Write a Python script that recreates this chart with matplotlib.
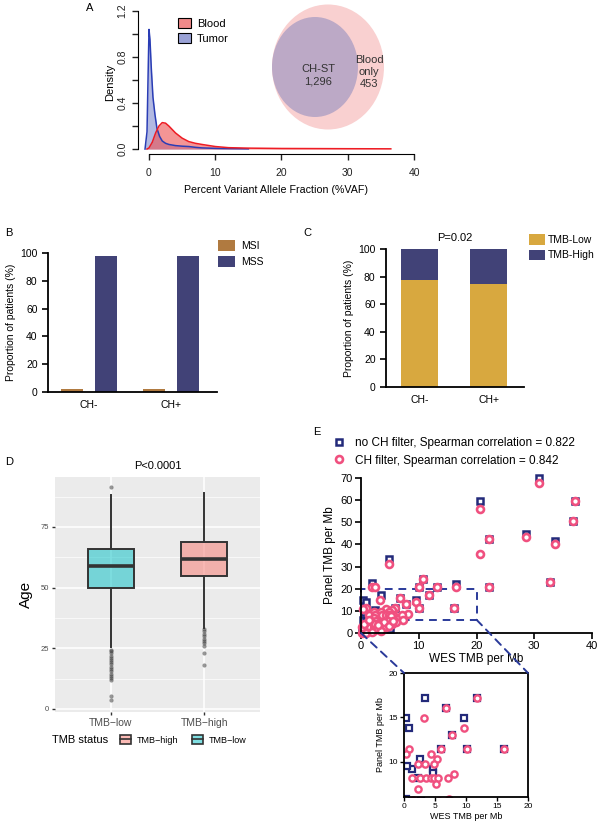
import matplotlib
matplotlib.use("Agg")
import matplotlib.pyplot as plt
from matplotlib.patches import Patch, Ellipse, Rectangle, ConnectionPatch
from matplotlib.lines import Line2D
from matplotlib.legend_handler import HandlerTuple

plt.rcParams['font.family'] = ['Liberation Sans', 'DejaVu Sans']

W, H = 600, 827

# ---------------- data ----------------
# A: density of %VAF
blood_vaf = [-0.3, 0, 0.5, 1, 1.5, 2, 2.5, 3, 3.5, 4, 5, 6, 7, 8, 10, 12, 15, 20, 25, 30, 36.5]
blood_dens = [0, 0.01, 0.06, 0.14, 0.2, 0.23, 0.225, 0.2, 0.17, 0.14, 0.095, 0.065, 0.05,
              0.04, 0.022, 0.012, 0.008, 0.005, 0.004, 0.003, 0.002]
tumor_vaf = [-0.6, -0.3, -0.1, 0, 0.15, 0.35, 0.6, 0.9, 1.2, 1.6, 2, 2.5, 3, 4, 5, 6, 7, 8,
             10, 12, 15]
tumor_dens = [0, 0.15, 0.75, 1.04, 0.95, 0.7, 0.45, 0.3, 0.18, 0.11, 0.07, 0.05, 0.04, 0.03,
              0.025, 0.022, 0.015, 0.01, 0.006, 0.004, 0.002]
venn_shared = 1296
venn_blood_only = 453

# B: MSI status
ch_groups = ["CH-", "CH+"]
msi_pct = [2.5, 2.3]
mss_pct = [97.5, 97.7]

# C: TMB status
tmb_low_pct = [77.5, 74.5]
tmb_high_pct = [22.5, 25.5]

# D: age by TMB status (box stats)
tmb_labels = ["TMB\u2212low", "TMB\u2212high"]
age_q1 = [49.7, 54.8]
age_med = [59, 62]
age_q3 = [66, 69]
age_whislo = [25.5, 33.5]
age_whishi = [88, 89]
age_fliers = [
    [91.3, 24.3, 23.7, 23, 22, 21, 20.3, 19.5, 18.5, 17.5, 16.5, 15.5, 14.5, 13.5, 12.8, 12,
     5.5, 3.5],
    [33, 32, 31, 30, 29, 28, 27, 26, 23, 18],
]

# E: panel vs WES TMB
wes_noch = [20.6, 30.8, 28.5, 33.6, 4.9, 1.85, 3.4, 16.4, 9.6, 0.4, 0.8, 2.5, 1.35, 4.7, 4.6,
            2.2, 0.3, 0.5, 37.1, 36.7, 22.1, 32.8, 22.1, 13.2, 10.8, 10.0, 11.7, 6.7, 7.8,
            10.1, 16.1, 5.9, 0.2, 0.6, 1.2, 2.0, 3.1, 4.2, 5.1, 0.9, 1.7, 2.8]
panel_noch = [59.5, 70.2, 44.7, 41.5, 33.5, 22.8, 17.2, 22.0, 14.9, 14.9, 13.8, 10.3, 9.2,
              9.2, 8.7, 8.1, 5.8, 9.5, 59.5, 50.5, 42.6, 23.2, 20.8, 20.8, 24.2, 20.8, 17.2,
              16.0, 13.0, 11.4, 11.4, 11.4, 1.5, 3.5, 2.2, 4.8, 3.0, 4.5, 2.0, 5.2, 0.8, 5.5]
wes_ch = [20.6, 30.8, 37.1, 36.7, 22.1, 28.5, 33.6, 20.6, 4.9, 32.8, 22.1, 16.4, 13.2, 10.8,
          10.0, 1.9, 2.5,
          11.7, 6.7, 3.3, 7.8, 9.6, 5.9, 10.1, 16.1, 0.8, 0.3, 4.4, 5.4, 2.2, 3.4, 4.9, 8.1,
          1.35, 2.5, 3.6, 4.4, 4.8, 5.5, 7.1, 5.2, 2.3, 7.3,
          0.1, 0.3, 0.5, 0.7, 0.9, 1.1, 1.3, 1.6, 1.8, 2.0, 2.3, 2.6, 2.9, 3.2, 3.8, 4.3, 4.6,
          5.3, 6.0, 0.2, 0.6, 3.9, 4.9, 2.7, 3.5, 0.8, 1.9, 2.4, 1.4, 3.0, 5.6]
panel_ch = [56.2, 67.9, 59.5, 50.5, 42.6, 43.5, 40.2, 35.6, 31.1, 23.2, 20.8, 20.9, 20.8, 24.2,
            20.8, 20.8, 20.6,
            17.2, 16.0, 14.9, 13.0, 13.8, 11.4, 11.4, 11.4, 11.4, 10.8, 10.8, 10.3, 9.7, 9.7,
            9.7, 8.65, 8.1, 8.1, 8.1, 8.1, 8.1, 8.1, 8.1, 7.5, 6.85, 5.8,
            0.2, 1.0, 0.4, 2.0, 3.2, 1.4, 4.4, 2.6, 5.3, 0.9, 3.0, 5.6, 2.0, 4.6, 3.4, 2.5, 5.4,
            4.1, 5.0, 2.6, 4.1, 5.0, 3.0, 1.6, 0.9, 0.1, 0.5, 4.0, 5.7, 3.6, 5.5]


def box(l, t, r, b):
    return [l / W, 1 - b / H, (r - l) / W, (b - t) / H]


def fxy(px, py):
    return px / W, 1 - py / H


fig = plt.figure(figsize=(6, 8.27), dpi=100)

# ---------------- A ----------------
ax_a = fig.add_axes(box(138, 11, 414, 154))
ax_a.fill_between(tumor_vaf, tumor_dens, color="#7f8bd0", alpha=0.6, lw=0)
ax_a.plot(tumor_vaf, tumor_dens, color="#2a3db5", lw=1.1)
ax_a.fill_between(blood_vaf, blood_dens, color="#ee4f4f", alpha=0.6, lw=0)
ax_a.plot(blood_vaf, blood_dens, color="#ee1c24", lw=1.1)
ax_a.set_xlim(-1.66, 40)
ax_a.set_ylim(-0.043, 1.2)
for s in ["top", "right"]:
    ax_a.spines[s].set_visible(False)
ax_a.spines["left"].set_bounds(0, 1.2)
ax_a.spines["bottom"].set_bounds(0, 40)
ax_a.set_xticks([0, 10, 20, 30, 40])
ax_a.set_yticks([0, 0.2, 0.4, 0.6, 0.8, 1.0, 1.2])
ax_a.set_yticklabels(["0.0", "", "0.4", "", "0.8", "", "1.2"], rotation=90, va="center")
ax_a.tick_params(labelsize=7.5, length=4, width=1, colors="#222222")
ax_a.tick_params(axis="x", pad=6)
ax_a.set_ylabel("Density", fontsize=8, labelpad=2)
ax_a.set_xlabel("Percent Variant Allele Fraction (%VAF)", fontsize=7.7, labelpad=5)
ax_a.legend(handles=[Patch(facecolor="#f08a8a", edgecolor="black", lw=0.8),
                     Patch(facecolor="#9aa2d6", edgecolor="black", lw=0.8)],
            labels=["Blood", "Tumor"], loc="upper left", bbox_to_anchor=(0.11, 1.02),
            frameon=False, fontsize=8, handlelength=1.1, handleheight=1.0,
            labelspacing=0.35, handletextpad=0.6)

# overlay for venn and text
ov = fig.add_axes([0, 0, 1, 1])
ov.set_xlim(0, W)
ov.set_ylim(H, 0)
ov.axis("off")
ov.add_patch(Ellipse((328, 67), 112, 125, facecolor="#f9d0d0", edgecolor="none"))
ov.add_patch(Ellipse((315, 67), 86, 100, facecolor="#bca9c6", edgecolor="none"))
ov.text(318, 75, f"CH-ST\n{venn_shared:,}", ha="center", va="center", fontsize=8,
        color="#333333", linespacing=1.3)
ov.text(369, 72, f"Blood\nonly\n{venn_blood_only}", ha="center", va="center", fontsize=8,
        color="#333333", linespacing=1.3)

# ---------------- B ----------------
ax_b = fig.add_axes(box(48, 253, 217, 392))
xb = [0, 1]
ax_b.bar([x - 0.21 for x in xb], msi_pct, width=0.27, color="#b07a40")
ax_b.bar([x + 0.21 for x in xb], mss_pct, width=0.27, color="#414277")
ax_b.set_xlim(-0.5, 1.56)
ax_b.set_ylim(0, 100)
ax_b.set_xticks(xb)
ax_b.set_xticklabels(ch_groups)
ax_b.set_yticks([0, 20, 40, 60, 80, 100])
for s in ["top", "right"]:
    ax_b.spines[s].set_visible(False)
for s in ["left", "bottom"]:
    ax_b.spines[s].set_linewidth(1.3)
ax_b.tick_params(axis="y", labelsize=7.5, length=4, width=1.2)
ax_b.tick_params(axis="x", labelsize=7.5, length=0, pad=6)
ax_b.set_ylabel("Proportion of patients (%)", fontsize=7.5, labelpad=3)
fig.legend(handles=[Patch(facecolor="#b07a40"), Patch(facecolor="#414277")],
           labels=["MSI", "MSS"], loc="upper left", bbox_to_anchor=fxy(218, 240),
           frameon=False, fontsize=7.5, handlelength=1.6, handleheight=1.2,
           labelspacing=0.5, handletextpad=0.6, borderaxespad=0, borderpad=0)

# ---------------- C ----------------
ax_c = fig.add_axes(box(386, 249, 524, 387))
ax_c.bar(xb, tmb_low_pct, width=0.54, color="#d8a83f")
ax_c.bar(xb, tmb_high_pct, width=0.54, bottom=tmb_low_pct, color="#414277")
ax_c.set_xlim(-0.49, 1.51)
ax_c.set_ylim(0, 100)
ax_c.set_xticks(xb)
ax_c.set_xticklabels(ch_groups)
ax_c.set_yticks([0, 20, 40, 60, 80, 100])
for s in ["top", "right"]:
    ax_c.spines[s].set_visible(False)
for s in ["left", "bottom"]:
    ax_c.spines[s].set_linewidth(1.3)
ax_c.tick_params(axis="y", labelsize=7.5, length=4, width=1.2)
ax_c.tick_params(axis="x", labelsize=7.5, length=0, pad=6)
ax_c.set_ylabel("Proportion of patients (%)", fontsize=7.5, labelpad=3)
fig.legend(handles=[Patch(facecolor="#d8a83f"), Patch(facecolor="#414277")],
           labels=["TMB-Low", "TMB-High"], loc="upper left", bbox_to_anchor=fxy(529, 234),
           frameon=False, fontsize=7.5, handlelength=1.5, handleheight=1.2,
           labelspacing=0.45, handletextpad=0.3, borderaxespad=0, borderpad=0)

# ---------------- D ----------------
ax_d = fig.add_axes(box(55, 477, 260, 712))
ax_d.set_facecolor("#EBEBEB")
stats = []
for i in range(2):
    stats.append(dict(med=age_med[i], q1=age_q1[i], q3=age_q3[i], whislo=age_whislo[i],
                      whishi=age_whishi[i], fliers=age_fliers[i]))
bp = ax_d.bxp(stats, positions=[0, 1], widths=0.5, patch_artist=True, showcaps=False,
              boxprops=dict(edgecolor="#333333", lw=1.4),
              medianprops=dict(color="#333333", lw=2.6),
              whiskerprops=dict(color="#333333", lw=1.4),
              flierprops=dict(marker="o", markersize=3, markerfacecolor="#333333",
                              markeredgecolor="none", alpha=0.5))
box_cols = [(0, 191 / 255, 196 / 255, 0.5), (248 / 255, 118 / 255, 109 / 255, 0.5)]
for patch, c in zip(bp["boxes"], box_cols):
    patch.set_facecolor(c)
ax_d.set_xlim(-0.6, 1.6)
ax_d.set_ylim(-1.24, 95.6)
ax_d.set_yticks([0, 25, 50, 75])
ax_d.set_yticks([12.5, 37.5, 62.5, 87.5], minor=True)
ax_d.set_xticks([0, 1])
ax_d.set_xticklabels(tmb_labels)
ax_d.set_axisbelow(True)
ax_d.grid(which="major", color="white", lw=1.1)
ax_d.grid(which="minor", axis="y", color="white", lw=0.5)
for s in ax_d.spines.values():
    s.set_visible(False)
ax_d.tick_params(axis="y", which="major", labelsize=5.5, length=2.5, width=1,
                 colors="#333333", labelcolor="#4D4D4D", pad=2)
ax_d.tick_params(axis="y", which="minor", length=0)
ax_d.tick_params(axis="x", labelsize=7.5, length=2.5, width=1, colors="#333333",
                 labelcolor="#4D4D4D", pad=2)
ax_d.set_ylabel("Age", fontsize=11, labelpad=5)
ov.text(108, 740, "TMB status", fontsize=8, ha="right", va="center")
key_handles = []
for c in [box_cols[1], box_cols[0]]:
    key_handles.append((Patch(facecolor=c, edgecolor="#333333", lw=1.2),
                        Line2D([], [], color="#333333", lw=1.2)))
fig.legend(handles=key_handles,
           labels=["TMB\u2212high", "TMB\u2212low"], loc="center left",
           bbox_to_anchor=fxy(112, 740), ncol=2, frameon=False, fontsize=6.5,
           handlelength=1.2, handleheight=1.2, columnspacing=1.6, handletextpad=0.6,
           handler_map={tuple: HandlerTuple(ndivide=1, pad=0)})

# ---------------- E ----------------
navy = "#232a7a"
pink = "#f0507f"
ax_e = fig.add_axes(box(361, 478, 592, 633))
ax_e.plot(wes_noch, panel_noch, ls="none", marker="s", ms=4.5, mfc="white", mec=navy,
          mew=1.8, clip_on=False)
ax_e.plot(wes_ch, panel_ch, ls="none", marker="o", ms=5, mfc="white", mec=pink, mew=1.9,
          clip_on=False)
ax_e.set_xlim(0, 40)
ax_e.set_ylim(0, 70)
ax_e.set_xticks([0, 10, 20, 30, 40])
ax_e.set_yticks([0, 10, 20, 30, 40, 50, 60, 70])
for s in ["top", "right"]:
    ax_e.spines[s].set_visible(False)
for s in ["left", "bottom"]:
    ax_e.spines[s].set_linewidth(1.3)
ax_e.tick_params(labelsize=8, length=4, width=1.2, pad=2)
ax_e.set_ylabel("Panel TMB per Mb", fontsize=8.5, labelpad=3)
ax_e.set_xlabel("WES TMB per Mb", fontsize=8.5, labelpad=1)
ax_e.add_patch(Rectangle((0, 6), 20, 14, fill=False, edgecolor="#2a3a9a", lw=1.4,
                         ls=(0, (4, 3)), clip_on=False))

ax_in = fig.add_axes(box(404, 673, 528, 797))
ax_in.plot(wes_noch, panel_noch, ls="none", marker="s", ms=4, mfc="white", mec=navy, mew=1.6)
ax_in.plot(wes_ch, panel_ch, ls="none", marker="o", ms=4.5, mfc="white", mec=pink, mew=1.7)
ax_in.set_xlim(0, 20)
ax_in.set_ylim(6, 20)
ax_in.set_xticks([0, 5, 10, 15, 20])
ax_in.set_yticks([10, 15, 20])
for s in ax_in.spines.values():
    s.set_linewidth(1.3)
ax_in.tick_params(labelsize=6, length=3, width=1, pad=1.5)
ax_in.set_ylabel("Panel TMB per Mb", fontsize=6.5, labelpad=2)
ax_in.set_xlabel("WES TMB per Mb", fontsize=6.5, labelpad=1)

for a_xy, b_xy in [((0, 0), (0, 20)), ((20, 6), (20, 20))]:
    con = ConnectionPatch(xyA=a_xy, coordsA=ax_e.transData, xyB=b_xy, coordsB=ax_in.transData,
                          color="#2a3a9a", lw=1.4, ls=(0, (4, 3)))
    fig.add_artist(con)

fig.legend(handles=[Line2D([], [], ls="none", marker="s", ms=4.5, mfc="white", mec=navy, mew=1.8),
                    Line2D([], [], ls="none", marker="o", ms=5, mfc="white", mec=pink, mew=1.9)],
           labels=["no CH filter, Spearman correlation = 0.822",
                   "CH filter, Spearman correlation = 0.842"],
           loc="upper left", bbox_to_anchor=fxy(328, 432), frameon=False, fontsize=8.5,
           handlelength=1.0, handletextpad=0.9, labelspacing=0.5, borderaxespad=0)

# ---------------- labels ----------------
ov.text(90, 8, "A", fontsize=8, va="center", ha="center")
ov.text(5, 233, "B", fontsize=8, va="center")
ov.text(303, 233, "C", fontsize=8, va="center")
ov.text(5, 462, "D", fontsize=8, va="center")
ov.text(313, 432, "E", fontsize=8, va="center")
ov.text(158, 466, "P<0.0001", fontsize=8, ha="center", va="center")
ov.text(455, 238, "P=0.02", fontsize=8, ha="center", va="center")

fig.savefig("out.png", dpi=100)
